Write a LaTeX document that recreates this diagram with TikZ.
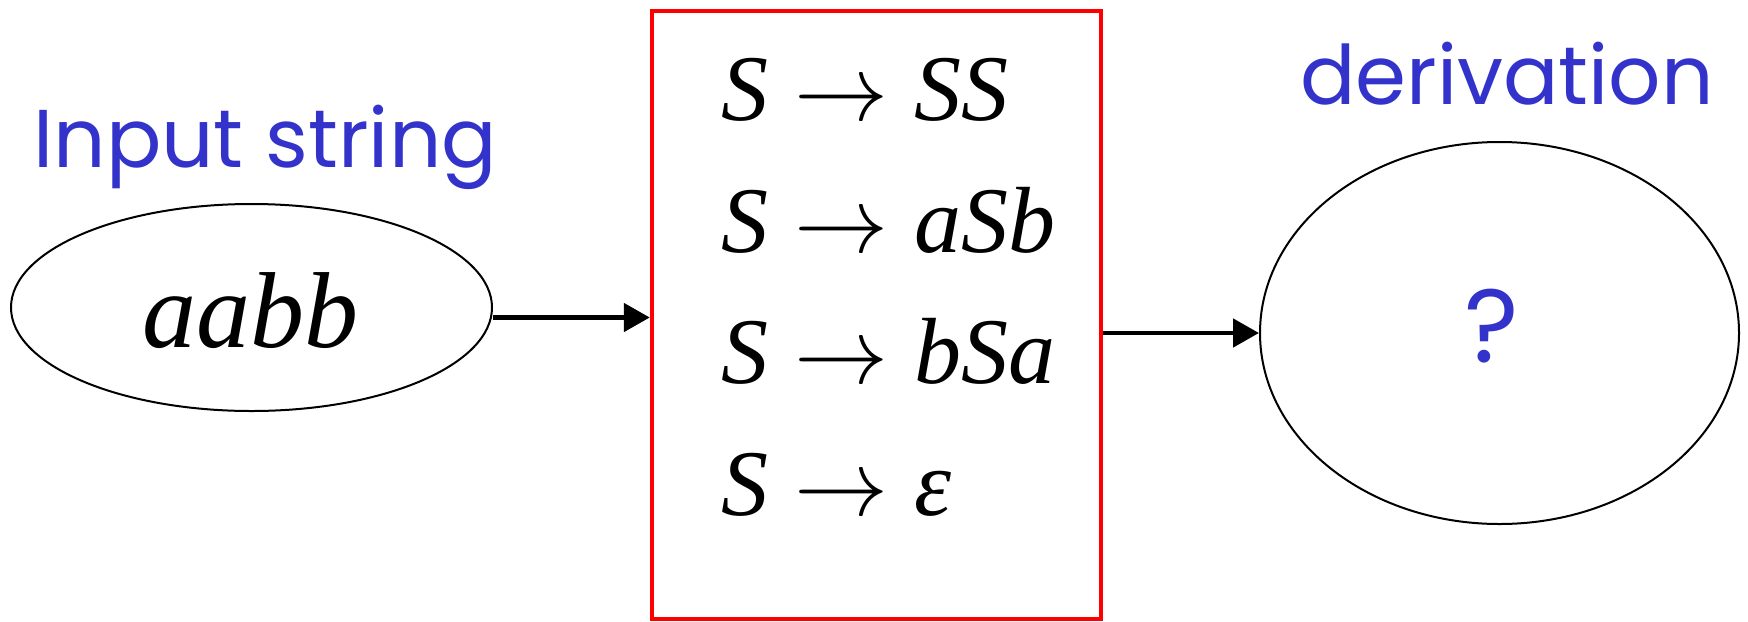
\RequirePackage{fix-cm}
\documentclass[tikz,border=0pt]{standalone}
\usepackage{fontspec}
\setmainfont{Liberation Serif}
\newfontfamily\handfont{Poppins}
\usetikzlibrary{arrows.meta,shapes.geometric,positioning}
\definecolor{cfgBlue}{HTML}{3333CC}
\definecolor{cfgRed}{HTML}{FF0000}
\tikzset{
  strnode/.style={draw, ellipse, line width=1pt, inner sep=0pt},
  grammar/.style={draw=cfgRed, line width=2.2pt, inner sep=0pt},
  rule/.style={anchor=base west, inner sep=0pt, font=\fontsize{47}{54}\selectfont\itshape},
  caption/.style={text=cfgBlue, inner sep=0pt, font=\handfont\fontsize{41}{48}\selectfont},
  feed/.style={-{Triangle[length=13pt,width=14pt]}, line width=2.4pt}
}
\begin{document}
\begin{tikzpicture}[x=0.5pt, y=-0.5pt]
  \useasboundingbox (0,0) rectangle (1748,621);
  \node[strnode, minimum width=240.5pt, minimum height=103.5pt] (inp) at (251.5,307.5) {};
  \node[anchor=base, inner sep=0pt, font=\fontsize{54}{60}\selectfont\itshape] (word) at (250,347) {aabb};
  \node[caption, anchor=base west] (inlab) at (33,167) {Input string};
  \node[grammar, minimum width=224.5pt, minimum height=304pt] (box) at (876.5,315) {};
  \node[rule] (r1) at (721,120) {S$\;\rightarrow\;$SS};
  \node[rule] (r2) at (721,252) {S$\;\rightarrow\;$aSb};
  \node[rule] (r3) at (721,383) {S$\;\rightarrow\;$bSa};
  \node[rule] (r4) at (721,515) {S$\;\rightarrow\;$ε};
  \node[strnode, minimum width=239.5pt, minimum height=191pt] (out) at (1499.5,333) {};
  \node[caption, anchor=base west] (outlab) at (1300,104) {derivation};
  \node[caption, anchor=base, font=\handfont\fontsize{52}{60}\selectfont] (qm) at (1492,362) {?};
  \draw[feed] ([yshift=-5pt]inp.east) -- ([yshift=-5pt]inp.east -| box.west);
  \draw[feed] (box.east |- out.west) -- (out.west);
\end{tikzpicture}
\end{document}
